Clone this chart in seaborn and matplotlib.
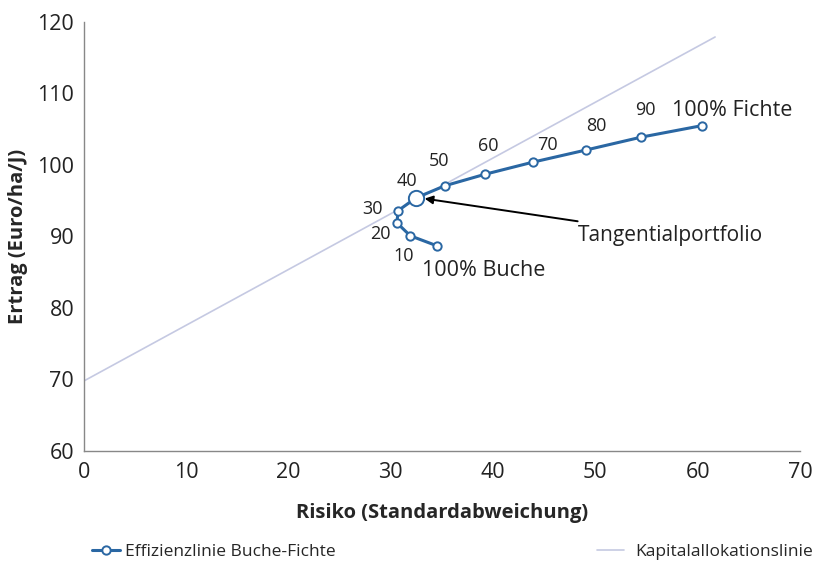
import matplotlib
matplotlib.use("Agg")
import matplotlib.pyplot as plt
import seaborn as sns
import pandas as pd

# Efficient frontier Buche-Fichte (share of Fichte in %)
anteil_fichte = [0, 10, 20, 30, 40, 50, 60, 70, 80, 90, 100]
risiko = [34.5, 31.9, 30.6, 30.7, 32.45, 35.3, 39.2, 43.9, 49.1, 54.5, 60.4]
ertrag = [88.7, 90.1, 91.9, 93.6, 95.4, 97.1, 98.7, 100.4, 102.1, 103.9, 105.5]

# Capital allocation line endpoints
cal_risiko = [0, 61.7]
cal_ertrag = [69.8, 117.9]

x_ticks = [0, 10, 20, 30, 40, 50, 60, 70]
y_ticks = [60, 70, 80, 90, 100, 110, 120]

BLUE = "#2a67a3"
CAL = "#c5c9e2"

sns.set_style("white")
plt.rcParams["font.family"] = ["Open Sans", "DejaVu Sans"]

df = pd.DataFrame({"Risiko": risiko, "Ertrag": ertrag, "Anteil": anteil_fichte})
cal = pd.DataFrame({"Risiko": cal_risiko, "Ertrag": cal_ertrag})

fig = plt.figure(figsize=(8.2, 5.62), dpi=100)
ax = fig.add_axes([0.1024, 0.1975, 0.8732, 0.7634])

sns.lineplot(data=cal, x="Risiko", y="Ertrag", ax=ax, color=CAL, lw=1.2,
             label="Kapitalallokationslinie", zorder=1)
sns.lineplot(data=df, x="Risiko", y="Ertrag", ax=ax, color=BLUE, lw=2.2,
             marker="o", markersize=6, markerfacecolor="white",
             markeredgecolor=BLUE, markeredgewidth=1.4,
             label="Effizienzlinie Buche-Fichte", zorder=3, sort=False)
# tangential portfolio (40 %) bigger marker
tp = df[df["Anteil"] == 40]
ax.plot(tp["Risiko"], tp["Ertrag"], "o", ms=11, mfc="white", mec=BLUE,
        mew=1.4, zorder=4)

# point labels
offsets = {10: (-0.6, -2.8), 20: (-1.6, -1.5), 30: (-2.5, 0.2), 40: (-0.9, 2.4),
           50: (-0.6, 3.5), 60: (0.3, 3.9), 70: (1.4, 2.4), 80: (1.0, 3.3),
           90: (0.4, 3.8)}
for a, xv, yv in zip(anteil_fichte, risiko, ertrag):
    if a in offsets:
        dx, dy = offsets[a]
        ax.text(xv + dx, yv + dy, str(a), fontsize=13, ha="center", va="center",
                color="#222222")
ax.text(63.4, 107.6, "100% Fichte", fontsize=15.5, ha="center", va="center",
        color="#222222")
ax.text(39.1, 85.3, "100% Buche", fontsize=15.5, ha="center", va="center",
        color="#222222")

ax.annotate("Tangentialportfolio", xy=(33.3, 95.3), xytext=(48.3, 90.2),
            fontsize=15, va="center", ha="left", color="#222222",
            arrowprops=dict(arrowstyle="-|>", color="black", lw=1.4,
                            mutation_scale=12, shrinkA=0, shrinkB=0))

ax.set_xlim(0, 70)
ax.set_ylim(60, 120)
ax.set_xticks(x_ticks)
ax.set_yticks(y_ticks)
ax.tick_params(axis="both", labelsize=15.5, colors="#222222")
ax.tick_params(axis="x", direction="in", length=4, color="#888888", pad=8)
ax.tick_params(axis="y", direction="out", length=4, color="#888888", pad=3)
for s in ["top", "right"]:
    ax.spines[s].set_visible(False)
for s in ["left", "bottom"]:
    ax.spines[s].set_color("#888888")
    ax.spines[s].set_linewidth(1.0)

ax.set_xlabel("Risiko (Standardabweichung)", fontsize=14.5, fontweight="bold",
              labelpad=14)
ax.set_ylabel("Ertrag (Euro/ha/J)", fontsize=14.5, fontweight="bold", labelpad=7)

h, l = ax.get_legend_handles_labels()
ax.get_legend().remove()
leg1 = fig.legend([h[1]], [l[1]], loc="center left", bbox_to_anchor=(0.093, 0.018),
                  frameon=False, fontsize=12.5, handlelength=1.6, handletextpad=0.3)
leg2 = fig.legend([h[0]], [l[0]], loc="center right", bbox_to_anchor=(1.01, 0.018),
                  frameon=False, fontsize=12.5, handlelength=1.6, handletextpad=0.6)

fig.savefig("out.png", dpi=100)
